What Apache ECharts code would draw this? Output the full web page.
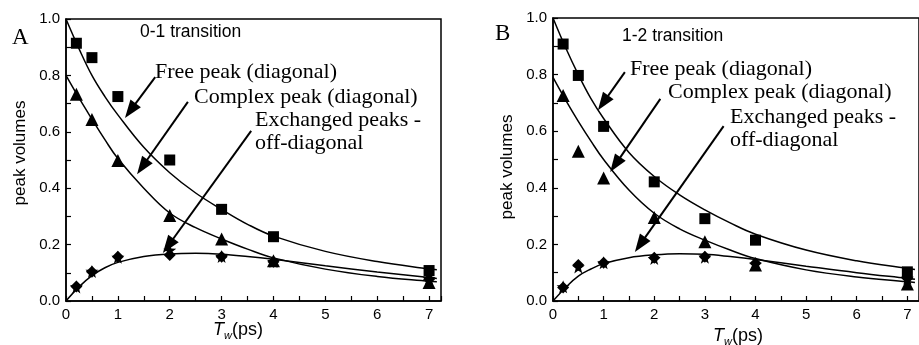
<!DOCTYPE html>
<html>
<head>
<meta charset="utf-8">
<script src="https://cdn.jsdelivr.net/npm/echarts@6/dist/echarts.min.js"></script>
<style>
  html, body { margin: 0; padding: 0; background: #fff; }
  #chart { width: 919px; height: 345px; }
</style>
</head>
<body>
<div id="chart"></div>
<script>
// measured points (Tw in ps)
const tw = [0.2, 0.5, 1, 2, 3, 4, 7]
const freeA = [0.914, 0.863, 0.725, 0.5, 0.325, 0.228, 0.108]
const complexA = [0.733, 0.644, 0.498, 0.303, 0.22, 0.143, 0.066]
const exchA = [0.051, 0.104, 0.157, 0.163, 0.157, 0.139, 0.077]
const starA = [0.05, 0.105, 0.155, 0.18, 0.158, 0.14, 0.08]

const freeB = [0.908, 0.797, 0.617, 0.421, 0.291, 0.215, 0.103]
const complexB = [0.726, 0.529, 0.435, 0.295, 0.209, 0.127, 0.06]
const exchB = [0.048, 0.127, 0.135, 0.153, 0.156, 0.133, 0.08]
const starB = [0.05, 0.12, 0.135, 0.15, 0.155, 0.13, 0.08]

// fitted curves
const fitX = [0, 0.25, 0.5, 0.75, 1, 1.5, 2, 2.5, 3, 3.5, 4, 5, 6, 7, 7.15]
const fitFreeA = [1.0, 0.895, 0.8, 0.725, 0.66, 0.545, 0.455, 0.383, 0.325, 0.272, 0.23, 0.176, 0.14, 0.114, 0.111]
const fitComplexA = [0.8, 0.72, 0.645, 0.572, 0.505, 0.4, 0.312, 0.26, 0.22, 0.184, 0.153, 0.113, 0.087, 0.07, 0.068]
const fitExchA = [0, 0.05, 0.09, 0.118, 0.137, 0.158, 0.167, 0.169, 0.166, 0.158, 0.148, 0.125, 0.103, 0.083, 0.08]
const fitFreeB = [1.0, 0.895, 0.8, 0.715, 0.645, 0.525, 0.44, 0.375, 0.322, 0.276, 0.236, 0.18, 0.142, 0.115, 0.111]
const fitComplexB = [0.79, 0.71, 0.635, 0.565, 0.5, 0.392, 0.31, 0.255, 0.215, 0.18, 0.15, 0.11, 0.085, 0.068, 0.065]
const fitExchB = [0, 0.048, 0.088, 0.113, 0.132, 0.153, 0.163, 0.167, 0.165, 0.157, 0.147, 0.123, 0.1, 0.08, 0.077]

// arrows [from, head centre] in data coords
const arrowsA = [[[1.72, 0.794], [1.24, 0.675]], [[2.35, 0.706], [1.47, 0.476]], [[3.57, 0.603], [1.97, 0.196]]]
const arrowsB = [[[1.42, 0.809], [0.99, 0.7]], [[2.12, 0.714], [1.23, 0.482]], [[3.37, 0.618], [1.72, 0.199]]]

const STAR = 'path://M0,-10 L2.35,-3.24 L9.51,-3.09 L3.8,1.24 L5.88,8.09 L0,4 L-5.88,8.09 L-3.8,1.24 L-9.51,-3.09 L-2.35,-3.24 Z'

const zip = (xs, ys) => xs.map((x, i) => [x, ys[i]])

const chart = echarts.init(document.getElementById('chart'))

const serif = '"Liberation Serif", "Times New Roman", serif'
const sans = '"Liberation Sans", Arial, sans-serif'

function axes(i) {
  const x = {
    type: 'value', gridIndex: i, min: 0, max: 7.23, interval: 1,
    axisLine: { lineStyle: { color: '#000', width: 1.5 } },
    axisTick: { inside: true, length: 5, lineStyle: { color: '#000', width: 1.2 } },
    minorTick: { show: true, splitNumber: 2, length: 5, lineStyle: { color: '#000', width: 1.2 } },
    axisLabel: { color: '#000', fontFamily: sans, fontSize: 15, margin: 6, showMaxLabel: false,
      formatter: v => Number.isInteger(v) ? String(v) : '' },
    splitLine: { show: false }
  }
  const y = {
    type: 'value', gridIndex: i, min: 0, max: 1, interval: 0.2,
    axisLine: { lineStyle: { color: '#000', width: 1.5 } },
    axisTick: { inside: true, length: 5, lineStyle: { color: '#000', width: 1.2 } },
    minorTick: { show: true, splitNumber: 2, length: 5, lineStyle: { color: '#000', width: 1.2 } },
    axisLabel: { color: '#000', fontFamily: sans, fontSize: 15, margin: 6, formatter: v => v.toFixed(1) },
    splitLine: { show: false }
  }
  return { x, y }
}

function fitLine(i, data) {
  return {
    type: 'line', xAxisIndex: i, yAxisIndex: i, data: data, smooth: 0.4,
    showSymbol: false, silent: true,
    lineStyle: { color: '#000', width: 1.5 }
  }
}

function marks(i, data, symbol, size) {
  return {
    type: 'scatter', xAxisIndex: i, yAxisIndex: i, data: data, symbol: symbol, symbolSize: size,
    itemStyle: { color: '#000', opacity: 1 }, silent: true
  }
}

function arrowSeries(i, arrows) {
  return {
    type: 'line', xAxisIndex: i, yAxisIndex: i, data: [], silent: true,
    markLine: {
      silent: true, animation: false,
      symbol: ['none', 'triangle'], symbolSize: [13, 18],
      label: { show: false },
      lineStyle: { color: '#000', width: 2, type: 'solid' },
      data: arrows.map(a => [{ coord: a[0] }, { coord: a[1] }])
    }
  }
}

function panelSeries(i, fits, pts, arrows) {
  return [
    fitLine(i, zip(fitX, fits[0])),
    fitLine(i, zip(fitX, fits[1])),
    fitLine(i, zip(fitX, fits[2])),
    marks(i, zip(tw, pts[3]), STAR, 13),
    marks(i, zip(tw, pts[0]), 'rect', 11),
    marks(i, zip(tw, pts[1]), 'triangle', 13),
    marks(i, zip(tw, pts[2]), 'diamond', 12),
    arrowSeries(i, arrows)
  ]
}

function txt(left, top, text, font, size) {
  return {
    type: 'text', left: left, top: top, silent: true,
    style: { text: text, fill: '#000', font: size + 'px ' + font, textVerticalAlign: 'middle' }
  }
}

function xName(x, y) {
  return {
    type: 'text', x: x, y: y, silent: true,
    style: {
      text: '{t|T}{s|w}{n|(ps)}',
      textVerticalAlign: 'middle',
      rich: {
        t: { fontFamily: sans, fontStyle: 'italic', fontSize: 18, fill: '#000' },
        s: { fontFamily: sans, fontStyle: 'italic', fontSize: 11, fill: '#000', padding: [12, 0, 0, 0] },
        n: { fontFamily: sans, fontSize: 18, fill: '#000' }
      }
    }
  }
}

function yName(x, y) {
  return {
    type: 'text', x: x, y: y, rotation: Math.PI / 2, silent: true,
    style: { text: 'peak volumes', fill: '#000', font: '17px ' + sans, textAlign: 'center', textVerticalAlign: 'middle' }
  }
}

const axA = axes(0)
const axB = axes(1)

const option = {
  animation: false,
  grid: [
    { left: 66, top: 19, width: 375, height: 282, show: true, borderColor: '#000', borderWidth: 1.5 },
    { left: 553, top: 18, width: 376, height: 283, show: true, borderColor: '#000', borderWidth: 1.5 }
  ],
  xAxis: [axA.x, axB.x],
  yAxis: [axA.y, axB.y],
  series: [
    ...panelSeries(0, [fitFreeA, fitComplexA, fitExchA], [freeA, complexA, exchA, starA], arrowsA),
    ...panelSeries(1, [fitFreeB, fitComplexB, fitExchB], [freeB, complexB, exchB, starB], arrowsB)
  ],
  graphic: [
    txt(12, 26, 'A', serif, 23),
    txt(140, 23, '0-1 transition', sans, 17.5),
    txt(155, 61, 'Free peak (diagonal)', serif, 22),
    txt(194, 86, 'Complex peak (diagonal)', serif, 22),
    txt(255, 109, 'Exchanged peaks -', serif, 22),
    txt(255, 132, 'off-diagonal', serif, 22),
    xName(213, 330),
    yName(20, 153),

    txt(495, 22, 'B', serif, 23),
    txt(622, 27, '1-2 transition', sans, 17.5),
    txt(630, 58, 'Free peak (diagonal)', serif, 22),
    txt(668, 81, 'Complex peak (diagonal)', serif, 22),
    txt(730, 106, 'Exchanged peaks -', serif, 22),
    txt(730, 129, 'off-diagonal', serif, 22),
    xName(713, 336),
    yName(507, 167)
  ]
}

chart.setOption(option)
</script>
</body>
</html>
